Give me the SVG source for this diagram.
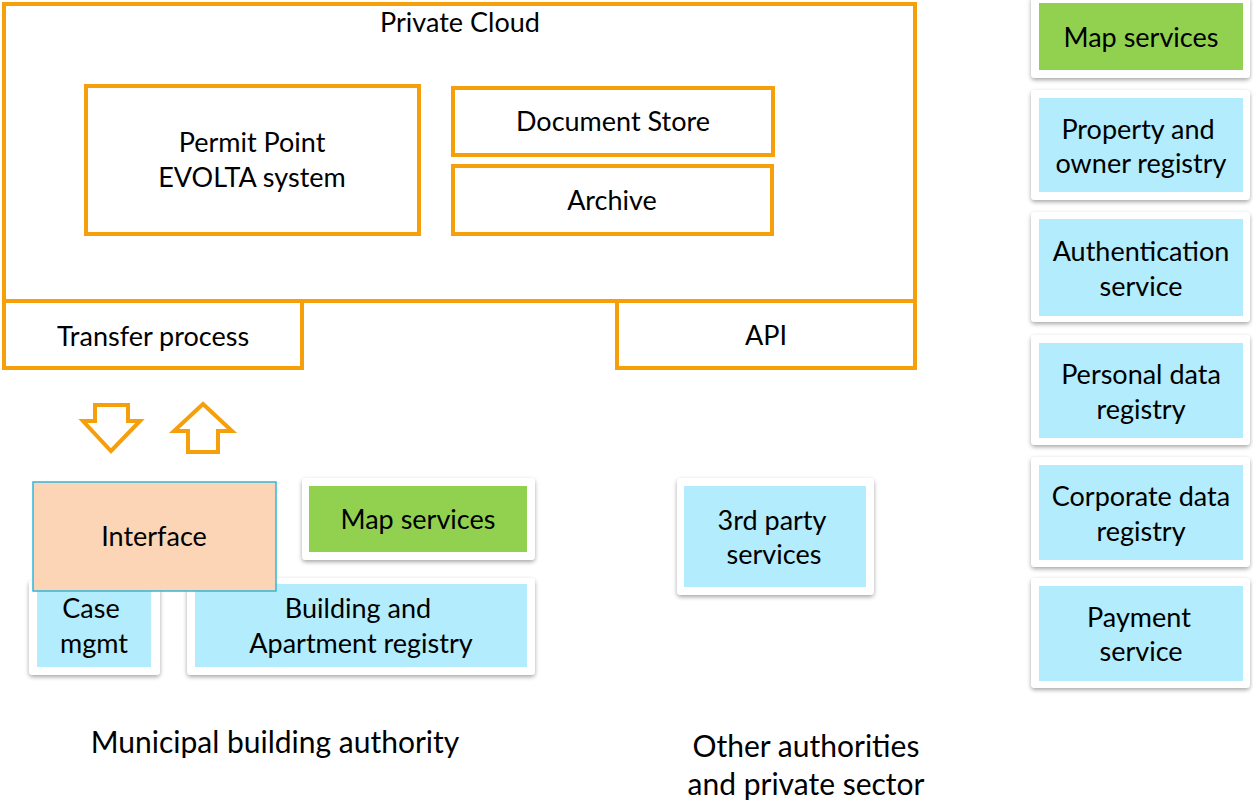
<svg xmlns="http://www.w3.org/2000/svg" width="1253" height="800" viewBox="0 0 1253 800">
<style>
text{font-family:Lato,"Open Sans","Liberation Sans",sans-serif;font-size:27px;fill:#000;text-anchor:middle;dominant-baseline:central}
text.big{font-size:30px}
.o{fill:#fff;stroke:#F5A00A;stroke-width:4}
.card{fill:#fff;filter:url(#sh)}
.blue{fill:#B3ECFC}
.green{fill:#92D050}
.arr{fill:#fff;stroke:#F5A00A;stroke-width:4;stroke-linejoin:miter}
</style>
<defs>
<filter id="sh" x="-10%" y="-10%" width="120%" height="130%">
<feDropShadow dx="0" dy="2" stdDeviation="2" flood-color="#000" flood-opacity="0.35"/>
</filter>
</defs>
<g id="private-cloud"><rect class="o" x="4" y="4" width="911" height="297"/><text x="460" y="21">Private Cloud</text></g>
<g id="transfer"><rect class="o" x="4" y="301" width="298" height="67"/><text x="153" y="335">Transfer process</text></g>
<g id="api"><rect class="o" x="617" y="301" width="298" height="67"/><text x="766" y="334">API</text></g>
<g id="permit"><rect class="o" x="86" y="86" width="333" height="148"/><text x="252" y="141">Permit Point</text><text x="252" y="176">EVOLTA system</text></g>
<g id="docstore"><rect class="o" x="453" y="88" width="320" height="67"/><text x="613" y="120">Document Store</text></g>
<g id="archive"><rect class="o" x="453" y="166" width="319" height="68"/><text x="612" y="199">Archive</text></g>
<g id="connectors">
<path class="arr" d="M95,405 H128 V421 H140 L111,451 L83,421 H95 Z"/>
<path class="arr" d="M188,452 H218 V431 H232 L203,404 L174,431 H188 Z"/>
</g>
<g id="case"><rect class="card" x="29" y="580" width="131" height="95" rx="4"/><rect class="blue" x="37" y="590" width="114" height="77"/><text x="91" y="607">Case</text><text x="94" y="642">mgmt</text></g>
<g id="building"><rect class="card" x="187" y="578" width="348" height="97" rx="4"/><rect class="blue" x="195" y="584" width="332" height="83"/><text x="358" y="607">Building and</text><text x="361" y="642">Apartment registry</text></g>
<g id="interface"><rect x="33" y="482" width="243" height="109" fill="#FBD5B5" stroke="#2FB6DA" stroke-width="1.5"/><text x="154" y="535">Interface</text></g>
<g id="map-local"><rect class="card" x="302" y="478" width="233" height="82" rx="4"/><rect class="green" x="309" y="486" width="218" height="66"/><text x="418" y="518">Map services</text></g>
<g id="third-party"><rect class="card" x="677" y="478" width="197" height="117" rx="4"/><rect class="blue" x="684" y="486" width="182" height="101"/><text x="772" y="519">3rd party</text><text x="774" y="553">services</text></g>
<g id="map-right"><rect class="card" x="1031" y="-4" width="219" height="82" rx="4"/><rect class="green" x="1039" y="3" width="204" height="67"/><text x="1141" y="36">Map services</text></g>
<g id="property"><rect class="card" x="1031" y="90" width="219" height="110" rx="4"/><rect class="blue" x="1039" y="98" width="204" height="94"/><text x="1138" y="128">Property and</text><text x="1141" y="162">owner registry</text></g>
<g id="auth"><rect class="card" x="1031" y="212" width="219" height="110" rx="4"/><rect class="blue" x="1039" y="219" width="204" height="97"/><text x="1141" y="250">Authentication</text><text x="1141" y="285">service</text></g>
<g id="personal"><rect class="card" x="1031" y="335" width="219" height="110" rx="4"/><rect class="blue" x="1039" y="343" width="204" height="95"/><text x="1141" y="373">Personal data</text><text x="1141" y="408">registry</text></g>
<g id="corporate"><rect class="card" x="1031" y="457" width="219" height="110" rx="4"/><rect class="blue" x="1039" y="465" width="204" height="95"/><text x="1141" y="495">Corporate data</text><text x="1141" y="530">registry</text></g>
<g id="payment"><rect class="card" x="1031" y="578" width="219" height="110" rx="4"/><rect class="blue" x="1039" y="586" width="204" height="95"/><text x="1139" y="616">Payment</text><text x="1141" y="650">service</text></g>
<g id="labels"><text class="big" x="275" y="741">Municipal building authority</text><text class="big" x="806" y="745">Other authorities</text><text class="big" x="806" y="783">and private sector</text></g>
</svg>
